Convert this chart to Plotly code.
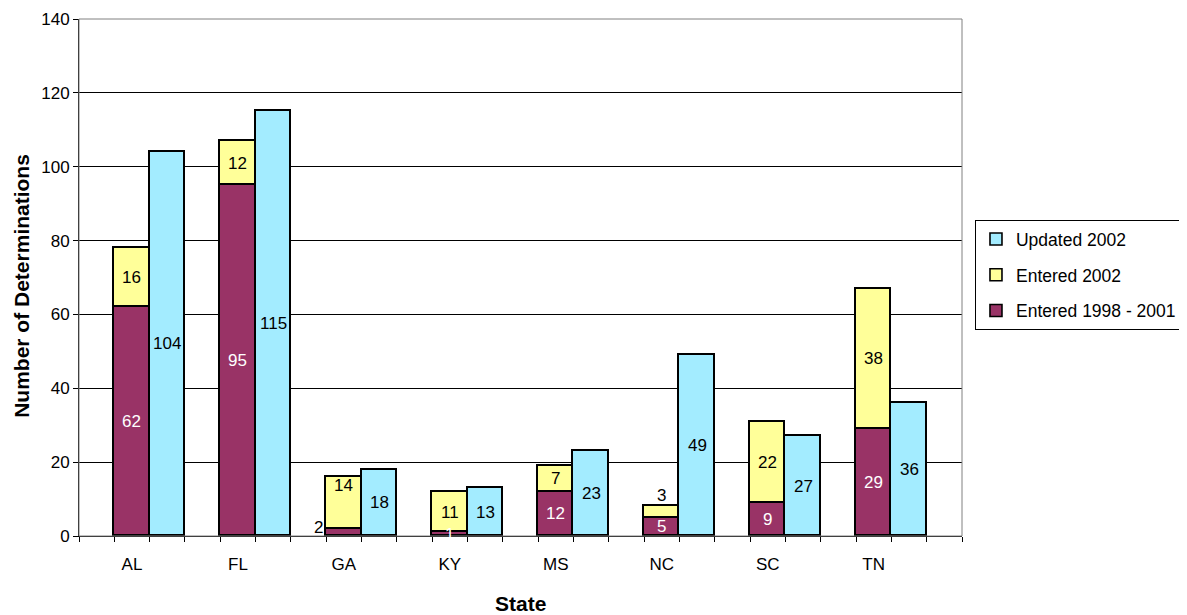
import plotly.graph_objects as go

states = ["AL", "FL", "GA", "KY", "MS", "NC", "SC", "TN"]
entered_1998_2001 = [62, 95, 2, 1, 12, 5, 9, 29]
entered_2002 = [16, 12, 14, 11, 7, 3, 22, 38]
updated_2002 = [104, 115, 18, 13, 23, 49, 27, 36]

MAROON = "#993366"
YELLOW = "#FFFF99"
CYAN = "#A3ECFF"
FONT = "Liberation Sans, Arial, sans-serif"

# each state occupies 3 slots: gap, stacked bar, updated bar (plus a final gap)
x_stack = [3 * i + 1.5 for i in range(len(states))]
x_upd = [3 * i + 2.5 for i in range(len(states))]

line = dict(color="black", width=1.6)
fig = go.Figure()
fig.add_trace(go.Bar(x=x_stack, y=entered_1998_2001, width=1, name="Entered 1998 - 2001",
                     marker=dict(color=MAROON, line=line), legendrank=3, legendgroup="c"))
fig.add_trace(go.Bar(x=x_stack, y=entered_2002, width=1, name="Entered 2002",
                     marker=dict(color=YELLOW, line=line), legendrank=2, legendgroup="b"))
fig.add_trace(go.Bar(x=x_upd, y=updated_2002, width=1, name="Updated 2002",
                     marker=dict(color=CYAN, line=line), legendrank=1, legendgroup="a"))

ann = []
lab_font = dict(family=FONT, size=17)
for i, s in enumerate(states):
    a, b, u = entered_1998_2001[i], entered_2002[i], updated_2002[i]
    # lower segment label
    ax, ay = x_stack[i], a / 2
    col = "white"
    if s == "GA":
        ax, ay = x_stack[i] - 0.72, a + 0.4
        col = "black"
    ann.append(dict(x=ax, y=ay, text=str(a), showarrow=False,
                    font=dict(lab_font, color=col)))
    # upper segment label
    by = a + b / 2
    if s == "GA":
        by = a + b - 2.2
    if s == "NC":
        by = a + b + 3.1
    ann.append(dict(x=x_stack[i], y=by, text=str(b), showarrow=False,
                    font=dict(lab_font, color="black")))
    ann.append(dict(x=x_upd[i], y=u / 2, text=str(u), showarrow=False,
                    font=dict(lab_font, color="black")))

ann.append(dict(xref="paper", yref="paper", x=0.5, y=-0.1296, xanchor="center", yanchor="middle",
                text="<b>State</b>", showarrow=False,
                font=dict(family=FONT, size=21, color="black")))
ann.append(dict(xref="paper", yref="paper", x=-0.0645, y=0.484, xanchor="center", yanchor="middle",
                text="<b>Number of Determinations</b>", textangle=-90, showarrow=False,
                font=dict(family=FONT, size=21, color="black")))

fig.update_layout(
    width=1179, height=607,
    margin=dict(l=71, r=225, t=11, b=79, autoexpand=False),
    barmode="stack",
    bargap=0,
    plot_bgcolor="white", paper_bgcolor="white",
    font=dict(family=FONT, size=17, color="black"),
    annotations=ann,
    showlegend=True,
    legend=dict(x=1.0147, y=0.611, xanchor="left", yanchor="top",
                bordercolor="black", borderwidth=1, bgcolor="white",
                font=dict(family=FONT, size=17.5, color="black"),
                tracegroupgap=10, itemwidth=30),
    shapes=[dict(type="rect", xref="paper", yref="paper", x0=0, y0=0, x1=1, y1=1,
                 line=dict(color="#808080", width=1), layer="above")],
)
fig.update_xaxes(range=[0, 25], tickvals=x_stack, ticktext=states, ticks="",
                 showgrid=False, zeroline=False, showline=True, linecolor="black", linewidth=1,
                 ticklabelstandoff=13, tickfont=dict(family=FONT, size=17), automargin=False,
                 minor=dict(tickvals=list(range(26)), ticks="outside", ticklen=5,
                            tickcolor="black", showgrid=False))
fig.update_yaxes(range=[0, 140], dtick=20, ticks="outside", ticklen=5, tickcolor="black",
                 showgrid=True, gridcolor="black", gridwidth=1, zeroline=False,
                 showline=True, linecolor="black", linewidth=1, automargin=False,
                 tickfont=dict(family=FONT, size=17))

fig.write_html("out.html")
